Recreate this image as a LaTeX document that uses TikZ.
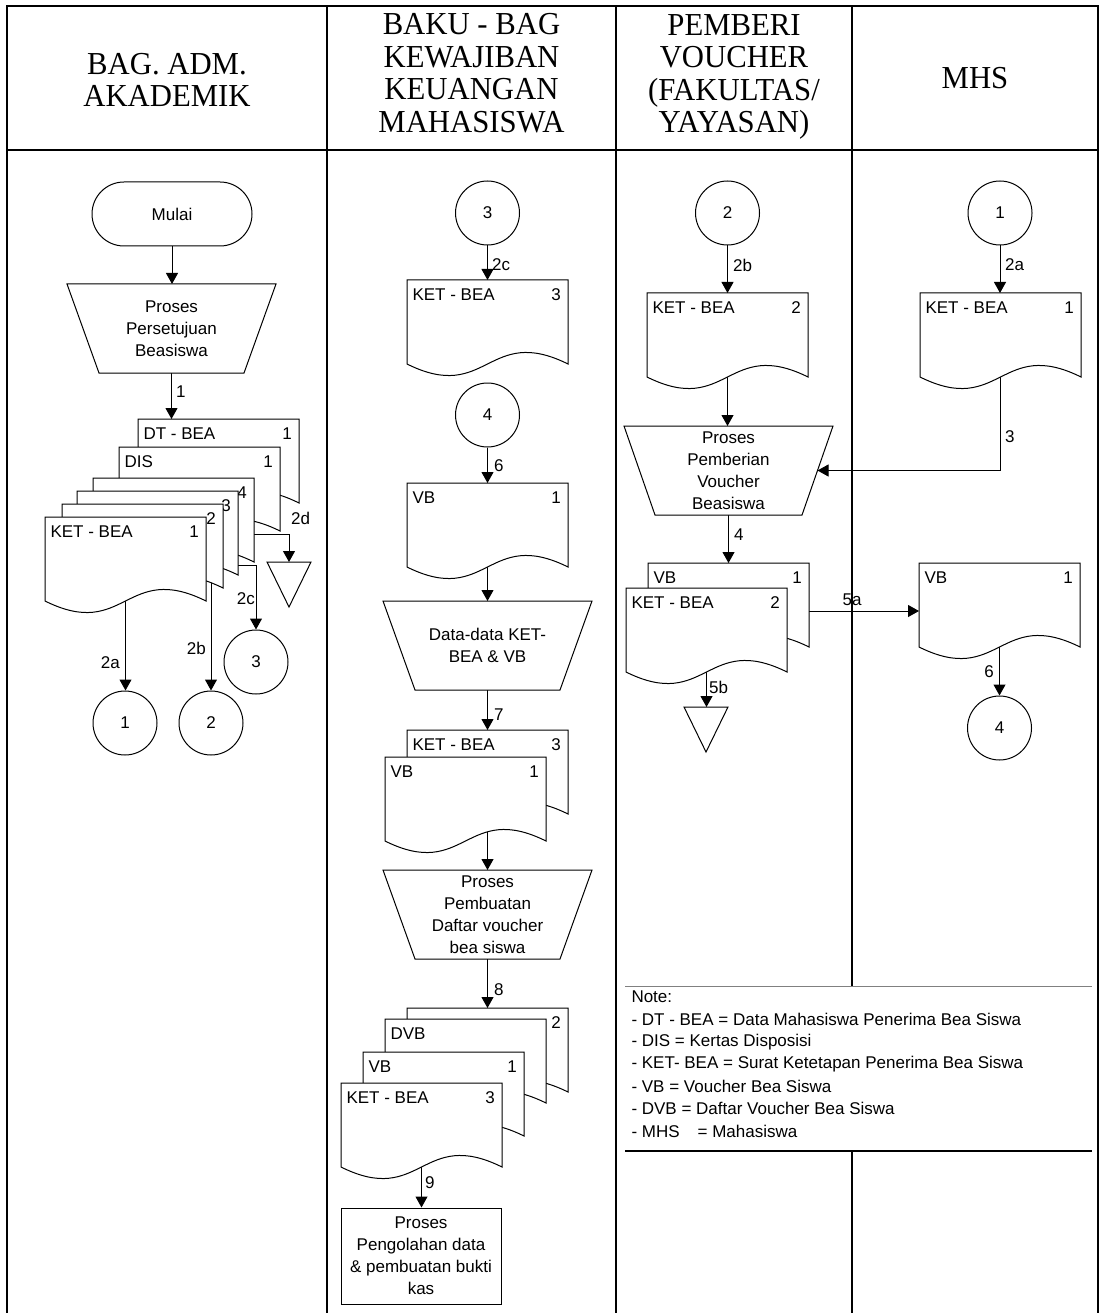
\documentclass[tikz,border=0pt]{standalone}
\usepackage{fontspec}
\setmainfont{Liberation Serif}
\newfontfamily\arialf{Liberation Sans}
\newfontfamily\timesc[FakeStretch=0.96]{Liberation Serif}
\usetikzlibrary{arrows.meta,calc}
\pgfdeclarelayer{bg}
\pgfsetlayers{bg,main}
\tikzset{
  arr/.style={line width=1pt, -{Triangle[length=11pt,width=12pt]}},
  docnode/.style={anchor=north west, minimum width=161pt, minimum height=84pt, inner sep=0pt, outer sep=0pt},
  circ/.style={circle, draw, fill=white, minimum size=64pt, inner sep=0pt, line width=1pt},
  lbl/.style={inner sep=0pt},
  hdr/.style={font=\timesc\fontsize{32}{32.5}\selectfont, align=center, inner sep=0pt},
  frame/.style={line width=1.2pt},
  shp/.style={draw, fill=white, line width=1pt}
}
\newcommand\mydoc[5]{%
  \node[docnode] (#1) at (#2,#3) {};
  \draw[shp] (#1.south west) -- (#1.north west) -- (#1.north east) -- (#1.south east)
    .. controls ($(#1.south)+(0,-40)$) and ($(#1.south)+(0,40)$) .. (#1.south west) -- cycle;
  \node[lbl, anchor=west] (#1t) at ($(#1.north west)+(5,15)$) {#4};
  \node[lbl] (#1n) at ($(#1.north east)+(-12,15)$) {#5};
}
\newcommand\mytrap[5]{%
  \node[minimum width=209pt, minimum height=89pt, inner sep=0pt, outer sep=0pt] (#1) at (#2,#3) {};
  \draw[shp] (#1.north west) -- (#1.north east) -- ($(#1.south east)+(-#4,0)$) -- ($(#1.south west)+(#4,0)$) -- cycle;
  \node[lbl, align=center] (#1t) at (#1.center) {#5};
}
\newcommand\mytri[3]{%
  \node[minimum width=44pt, minimum height=45pt, inner sep=0pt, outer sep=0pt] (#1) at (#2,#3) {};
  \draw[shp] (#1.north west) -- (#1.north east) -- (#1.south) -- cycle;
}
\begin{document}
\begin{tikzpicture}[x=1pt, y=-1pt, font=\arialf\fontsize{17}{22}\selectfont, line width=1pt]
\useasboundingbox (0,0) rectangle (1100,1313);
% frame
\draw[frame] (7,1313) -- (7,6) -- (1098,6) -- (1098,1313);
\draw[line width=2pt] (7,150) -- (1098,150);
\draw[frame] (327,6) -- (327,1313);
\draw[frame] (616,6) -- (616,1313);
\draw[frame] (852,6) -- (852,986);
\draw[frame] (852,1151) -- (852,1313);
% headers
\node[hdr] (h1) at (167,80) {BAG. ADM.\\AKADEMIK};
\node[hdr] (h2) at (471.5,73) {BAKU - BAG\\KEWAJIBAN\\KEUANGAN\\MAHASISWA};
\node[hdr] (h3) at (734,77) {PEMBERI\\VOUCHER\\(FAKULTAS/\\YAYASAN)};
\node[hdr] (h4) at (975,78) {MHS};
% notes
\draw[line width=1pt, gray] (625,986) -- (1092,986);
\draw[line width=2.5pt] (625,1151) -- (1092,1151);
\node[lbl, anchor=west] (n0) at (631,997) {Note:};
\node[lbl, anchor=west] (n1) at (631,1019) {- DT - BEA = Data Mahasiswa Penerima Bea Siswa};
\node[lbl, anchor=west] (n2) at (631,1042) {- DIS = Kertas Disposisi};
\node[lbl, anchor=west] (n3) at (631,1064) {- KET- BEA = Surat Ketetapan Penerima Bea Siswa};
\node[lbl, anchor=west] (n4) at (631,1086) {- VB = Voucher Bea Siswa};
\node[lbl, anchor=west] (n5) at (631,1108) {- DVB = Daftar Voucher Bea Siswa};
\node[lbl, anchor=west] (n6) at (631,1131) {- MHS\hspace{18pt}= Mahasiswa};

% ===== column 1 =====
\node[shp, rounded corners=32pt, minimum width=160pt, minimum height=64pt] (mulai) at (172,214) {Mulai};
\mytrap{trap1}{171.5}{328.5}{32}{Proses\\Persetujuan\\Beasiswa}
\mydoc{dt}{138}{419}{DT - BEA}{1}
\mydoc{dis}{119}{447}{DIS}{1}
\mydoc{la}{93}{478}{}{4}
\mydoc{lb}{77}{491}{}{3}
\mydoc{lc}{62}{504}{}{2}
\mydoc{k1}{45}{517}{KET - BEA}{1}
\node[circ] (o1) at (125,723) {1};
\node[circ] (o2) at (211,723) {2};
\node[circ] (o3) at (256,662) {3};
\mytri{tri1}{289}{584.5}

% ===== column 2 =====
\node[circ] (c3) at (487.5,213) {3};
\mydoc{ketb3}{407}{280}{KET - BEA}{3}
\node[circ] (c4) at (487.5,415) {4};
\mydoc{vb1}{407}{483}{VB}{1}
\mytrap{trapD}{487.5}{645.5}{32}{Data-data KET-\\BEA \& VB}
\mydoc{b7}{407}{730}{KET - BEA}{3}
\mydoc{f7}{385}{757}{VB}{1}
\mytrap{trapP}{487.5}{914.5}{32}{Proses\\Pembuatan\\Daftar voucher\\bea siswa}
\mydoc{a8}{407}{1008}{}{2}
\mydoc{bb8}{385}{1019}{DVB}{}
\mydoc{cc8}{363}{1052}{VB}{1}
\mydoc{d8}{341}{1083}{KET - BEA}{3}
\node[shp, minimum width=160pt, minimum height=96pt, inner sep=0pt, align=center] (box) at (421,1256) {Proses\\Pengolahan data\\\& pembuatan bukti\\kas};

% ===== column 3 =====
\node[circ] (cb2) at (727.5,213) {2};
\mydoc{ketb2}{647}{293}{KET - BEA}{2}
\mytrap{trapV}{728.5}{470.5}{31}{Proses\\Pemberian\\Voucher\\Beasiswa}
\mydoc{vbp}{648}{563}{VB}{1}
\mydoc{ketp}{626}{588}{KET - BEA}{2}
\mytri{tri2}{706}{729.5}

% ===== column 4 =====
\node[circ] (cm1) at (1000,213) {1};
\mydoc{ketm}{920}{293}{KET - BEA}{1}
\mydoc{vbm}{919}{563}{VB}{1}
\node[circ] (cm4) at (999.5,728) {4};

% ===== connectors =====
\coordinate (s2b) at (211,560);
\coordinate (s2c) at (200,565);
\coordinate (s2d) at (240,534);
\coordinate (trapVr) at ($(trapV.east)+(-15.5,0)$);
\coordinate (s5a) at ($(vbp.east)+(0,6)$);
\begin{pgfonlayer}{bg}
\draw[arr] (mulai.south) -- (mulai.south |- trap1.north);
\draw[arr] (trap1.south) -- (trap1.south |- dt.north);
\draw[arr] (k1.center) -- (k1.center |- o1.north);
\draw[arr] (s2b) -- (s2b |- o2.north);
\draw[arr] (s2c) -| (o3.north);
\draw[arr] (s2d) -| (tri1.north);
\draw[arr] (c3.south) -- (c3.south |- ketb3.north);
\draw[arr] (c4.south) -- (c4.south |- vb1.north);
\draw[arr] (vb1.center) -- (vb1.center |- trapD.north);
\draw[arr] (trapD.south) -- (trapD.south |- b7.north);
\draw[arr] (trapD.south |- f7.center) -- (trapD.south |- trapP.north);
\draw[arr] (trapP.south) -- (trapP.south |- a8.north);
\draw[arr] (d8.center) -- (d8.center |- box.north);
\draw[arr] (cb2.south) -- (cb2.south |- ketb2.north);
\draw[arr] (ketb2.center) -- (ketb2.center |- trapV.north);
\draw[arr] (cm1.south) -- (cm1.south |- ketm.north);
\draw[arr] (ketm.center) |- (trapVr);
\draw[arr] (trapV.south) -- (trapV.south |- vbp.north);
\draw[arr] (s5a) -- (s5a -| vbm.west);
\draw[arr] (ketp.center) -- (ketp.center |- tri2.north);
\draw[arr] (vbm.center) -- (vbm.center |- cm4.north);
\end{pgfonlayer}

% ===== labels =====
\node[lbl, anchor=west] (l1) at (176,392) {1};
\node[lbl, anchor=east] (l2a) at (120,663) {2a};
\node[lbl, anchor=east] (l2b) at (206,648) {2b};
\node[lbl, anchor=east] (l2c) at (255,599) {2c};
\node[lbl, anchor=west] (l2d) at (291,518) {2d};
\node[lbl, anchor=west] (m2c) at (492,265) {2c};
\node[lbl, anchor=west] (m6) at (494,466) {6};
\node[lbl, anchor=west] (m7) at (494,715) {7};
\node[lbl, anchor=west] (m8) at (494,990) {8};
\node[lbl, anchor=west] (m9) at (425,1183) {9};
\node[lbl, anchor=west] (p2b) at (733,265) {2b};
\node[lbl, anchor=west] (q2a) at (1005,265) {2a};
\node[lbl, anchor=west] (q3) at (1005,437) {3};
\node[lbl, anchor=west] (p4) at (734,535) {4};
\node[lbl] (p5a) at (852,600) {5a};
\node[lbl, anchor=west] (p5b) at (709,687) {5b};
\node[lbl, anchor=east] (q6) at (994,672) {6};
\end{tikzpicture}
\end{document}
